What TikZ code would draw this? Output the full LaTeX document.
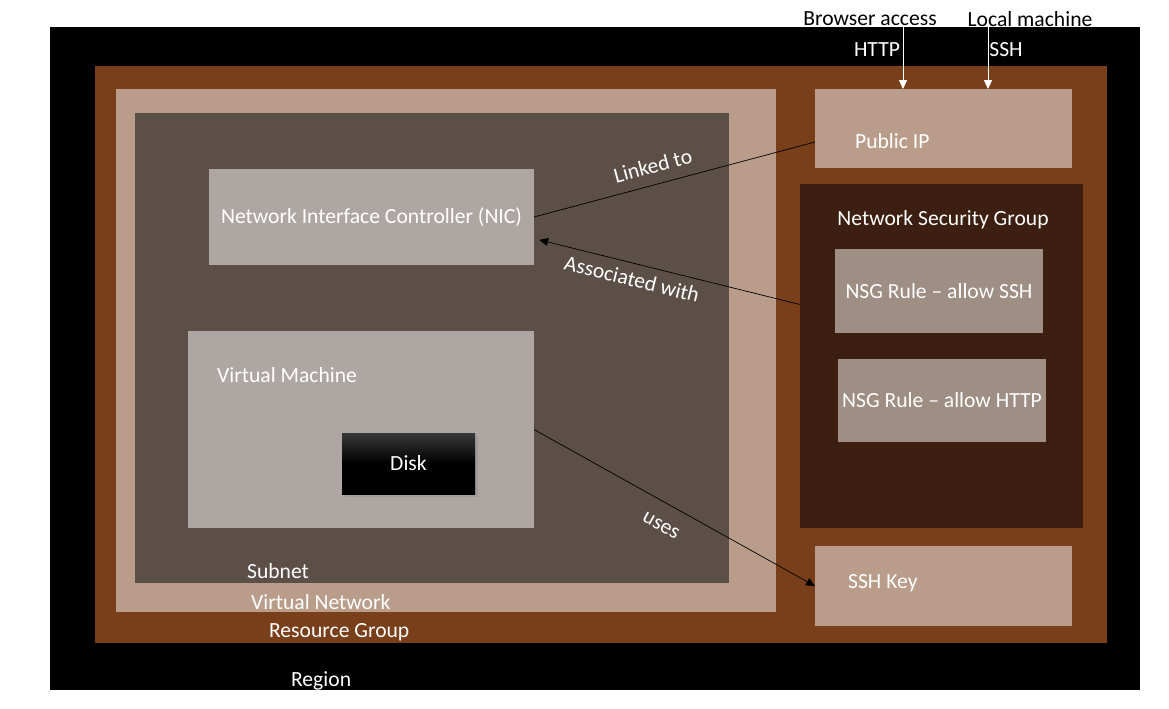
\documentclass[tikz,border=0pt]{standalone}
\usepackage{fontspec}
\setmainfont{Carlito}
\usetikzlibrary{
    arrows.meta,
    fit,
    shadows,
    positioning
}

\definecolor{regionblack}{HTML}{000000}
\definecolor{groupbrown}{HTML}{783F1A}
\definecolor{vnettan}{HTML}{B99D8A}
\definecolor{subnetgray}{HTML}{5B4F47}
\definecolor{vmgray}{HTML}{AEA6A3}
\definecolor{nsgbrown}{HTML}{3C1F10}
\definecolor{rulegray}{HTML}{9E8E84}

\begin{document}
\begin{tikzpicture}[
    x=0.02cm, y=-0.02cm,
    font=\fontsize{12.3}{14}\selectfont,
    areabox/.style = {inner sep=0pt, outer sep=0pt},
    itembox/.style = {areabox, text=white},
    whitetext/.style = {text=white, inner sep=1pt},
    plainline/.style = {black, thin},
    usesarrow/.style = {black, thin, -{Triangle[length=5pt,width=4.5pt]}},
    inarrow/.style = {white, thin, -{Triangle[length=5pt,width=4.5pt]}}
]

    \useasboundingbox (0,0) rectangle (1169,708);

    % nested areas
    \node[areabox, fill=regionblack, fit={(50,27) (1140,690)}] (region) {};
    \node[areabox, fill=groupbrown, fit={(95,66) (1107,643)}] (rg) {};
    \node[areabox, fill=vnettan, fit={(116,89) (776,612)}] (vnet) {};
    \node[areabox, fill=subnetgray, fit={(135,113) (729,583)}] (subnet) {};

    % items
    \node[itembox, fill=vmgray, fit={(209,169) (534,265)}] (nic) {};
    \node[whitetext] at (nic.center) {Network Interface Controller (NIC)};
    \node[itembox, fill=vmgray, fit={(188,331) (534,528)}] (vm) {};
    \node[whitetext, anchor=west] (vmlabel) at (215,375) {Virtual Machine};
    \node[itembox, fit={(342,433) (475,494)},
          top color=black!78, bottom color=black, middle color=black,
          drop shadow={opacity=0.3, shadow xshift=1.5pt, shadow yshift=-1.5pt}] (disk) {};
    \node[whitetext] at (disk.center) {Disk};

    \node[itembox, fill=vnettan, fit={(815,89) (1072,168)}] (pip) {};
    \node[whitetext, anchor=west] (piplabel) at (853,141) {Public IP};
    \node[itembox, fill=nsgbrown, fit={(800,184) (1083,528)}] (nsg) {};
    \node[whitetext] (nsglabel) at (943,220) {Network Security Group};
    \node[itembox, fill=rulegray, fit={(835,249) (1043,333)}] (rulessh) {};
    \node[whitetext] at (rulessh.center) {NSG Rule -- allow SSH};
    \node[itembox, fill=rulegray, fit={(838,359) (1046,442)}] (rulehttp) {};
    \node[whitetext] at (rulehttp.center) {NSG Rule -- allow HTTP};
    \node[itembox, fill=vnettan, fit={(815,546) (1072,626)}] (key) {};
    \node[whitetext, anchor=west] (keylabel) at (846,583) {SSH Key};

    % area labels
    \node[whitetext, anchor=west] (subnetlabel) at (245,571) {Subnet};
    \node[whitetext, anchor=west] (vnetlabel) at (249,602) {Virtual Network};
    \node[whitetext, anchor=west] (rglabel) at (267,632) {Resource Group};
    \node[whitetext, anchor=west] (regionlabel) at (289,681) {Region};

    % incoming traffic
    \node (browser) at (870,19) {Browser access};
    \node (local) at (1030,19) {Local machine};
    \node[whitetext] (http) at (877,50) {HTTP};
    \node[whitetext] (ssh) at (1006,50) {SSH};
    \coordinate (httpin) at (903,27);
    \coordinate (sshin) at (988,27);
    \draw[inarrow] (httpin) -- (httpin |- pip.north);
    \draw[inarrow] (sshin) -- (sshin |- pip.north);

    % connectors
    \draw[plainline] (nic.east) -- node[pos=0.44, above=3pt, sloped, text=white] {Linked to} (pip.186);
    \draw[usesarrow] (nsg.160) -- node[pos=0.63, below=1pt, sloped, text=white] {Associated with} ([xshift=3pt]nic.-8);
    \draw[usesarrow] (vm.east) -- node[pos=0.49, below=6pt, sloped, text=white] {uses} (key.west);

\end{tikzpicture}
\end{document}
